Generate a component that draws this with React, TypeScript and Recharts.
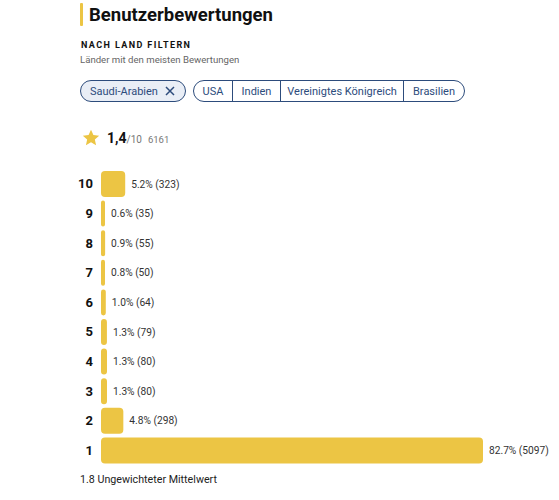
import { BarChart, Bar, XAxis, YAxis, LabelList } from 'recharts'

const ratings = ['10', '9', '8', '7', '6', '5', '4', '3', '2', '1']
const counts = [323, 35, 55, 50, 64, 79, 80, 80, 298, 5097]
const percents = ['5.2', '0.6', '0.9', '0.8', '1.0', '1.3', '1.3', '1.3', '4.8', '82.7']

const countries = ['USA', 'Indien', 'Vereinigtes Königreich', 'Brasilien']
const selectedCountry = 'Saudi-Arabien'

const data = ratings.map((r, i) => ({
  rating: r,
  count: counts[i],
  label: `${percents[i]}% (${counts[i]})`,
}))

const font = 'Roboto, "Noto Sans", sans-serif'
const yellow = '#ecc544'
const navy = '#2d4c7c'
const segWidths = [38, 48, 123, 61]

function Star() {
  return (
    <svg width={20} height={20} viewBox="0 0 24 24">
      <path
        d="M12 2.2l2.9 6.3 6.9.7-5.2 4.6 1.5 6.8L12 17.1l-6.1 3.5 1.5-6.8-5.2-4.6 6.9-.7z"
        fill={yellow}
      />
    </svg>
  )
}

// plain svg text so long labels never wrap
const BarLabel = (props: any) => {
  const { x, y, width, height, value } = props
  return (
    <text
      x={Number(x) + Number(width) + 6}
      y={Number(y) + Number(height) / 2}
      dy="0.35em"
      fontSize={10.2}
      fill="#333"
      fontFamily={font}
    >
      {value}
    </text>
  )
}

export default function App() {
  return (
    <div style={{ position: 'absolute', left: 0, top: 0, width: 559, height: 500, background: '#fff', fontFamily: font, color: '#111' }}>
      {/* header */}
      <div style={{ position: 'absolute', left: 80, top: 3, width: 3, height: 23, background: yellow, borderRadius: 1 }} />
      <div style={{ position: 'absolute', left: 89, top: 3, fontSize: 18.5, fontWeight: 700, lineHeight: '24px', whiteSpace: 'nowrap' }}>
        Benutzerbewertungen
      </div>
      <div style={{ position: 'absolute', left: 81, top: 39, fontSize: 9, fontWeight: 700, letterSpacing: 1.4, lineHeight: '12px' }}>
        NACH LAND FILTERN
      </div>
      <div style={{ position: 'absolute', left: 80, top: 54, fontSize: 9.6, color: '#666', lineHeight: '12px', whiteSpace: 'nowrap' }}>
        Länder mit den meisten Bewertungen
      </div>

      {/* country chips */}
      <div
        style={{
          position: 'absolute', left: 80, top: 80, width: 106, height: 22, boxSizing: 'border-box',
          border: `1px solid ${navy}`, borderRadius: 11, background: '#e9eef6', color: navy,
          fontSize: 11, display: 'flex', alignItems: 'center', paddingLeft: 9, gap: 7, whiteSpace: 'nowrap',
        }}
      >
        {selectedCountry}
        <svg width={10} height={10} viewBox="0 0 10 10">
          <path d="M1 1L9 9M9 1L1 9" stroke={navy} strokeWidth={1.5} />
        </svg>
      </div>
      <div
        style={{
          position: 'absolute', left: 193, top: 80, height: 22, boxSizing: 'border-box',
          border: `1px solid ${navy}`, borderRadius: 11, color: navy, fontSize: 11,
          display: 'flex', overflow: 'hidden',
        }}
      >
        {countries.map((c, i) => (
          <div
            key={c}
            style={{
              width: segWidths[i], boxSizing: 'border-box', display: 'flex', alignItems: 'center',
              justifyContent: 'center', whiteSpace: 'nowrap',
              borderLeft: i === 0 ? 'none' : `1px solid ${navy}`,
            }}
          >
            {c}
          </div>
        ))}
      </div>

      {/* rating summary */}
      <div style={{ position: 'absolute', left: 81, top: 128 }}>
        <Star />
      </div>
      <div style={{ position: 'absolute', left: 107, top: 130, display: 'flex', alignItems: 'baseline', whiteSpace: 'nowrap' }}>
        <span style={{ fontSize: 14, fontWeight: 700 }}>1,4</span>
        <span style={{ fontSize: 10, color: '#777' }}>/10</span>
        <span style={{ fontSize: 9.5, color: '#777', marginLeft: 6 }}>6161</span>
      </div>

      {/* distribution */}
      <div style={{ position: 'absolute', left: 70, top: 169 }}>
        <BarChart
          width={489}
          height={296}
          data={data}
          layout="vertical"
          margin={{ top: 0, right: 76, bottom: 0, left: 0 }}
        >
          <XAxis type="number" dataKey="count" hide domain={[0, 5097]} />
          <YAxis
            type="category"
            dataKey="rating"
            width={31}
            axisLine={false}
            tickLine={false}
            tick={{ fontSize: 13, fontWeight: 700, fill: '#111', fontFamily: font }}
          />
          <Bar dataKey="count" fill={yellow} barSize={26} radius={4} minPointSize={4} isAnimationActive={false}>
            <LabelList dataKey="label" content={BarLabel} />
          </Bar>
        </BarChart>
      </div>

      <div style={{ position: 'absolute', left: 80, top: 473, fontSize: 10.7, color: '#222', lineHeight: '14px', whiteSpace: 'nowrap' }}>
        1.8 Ungewichteter Mittelwert
      </div>
    </div>
  )
}
